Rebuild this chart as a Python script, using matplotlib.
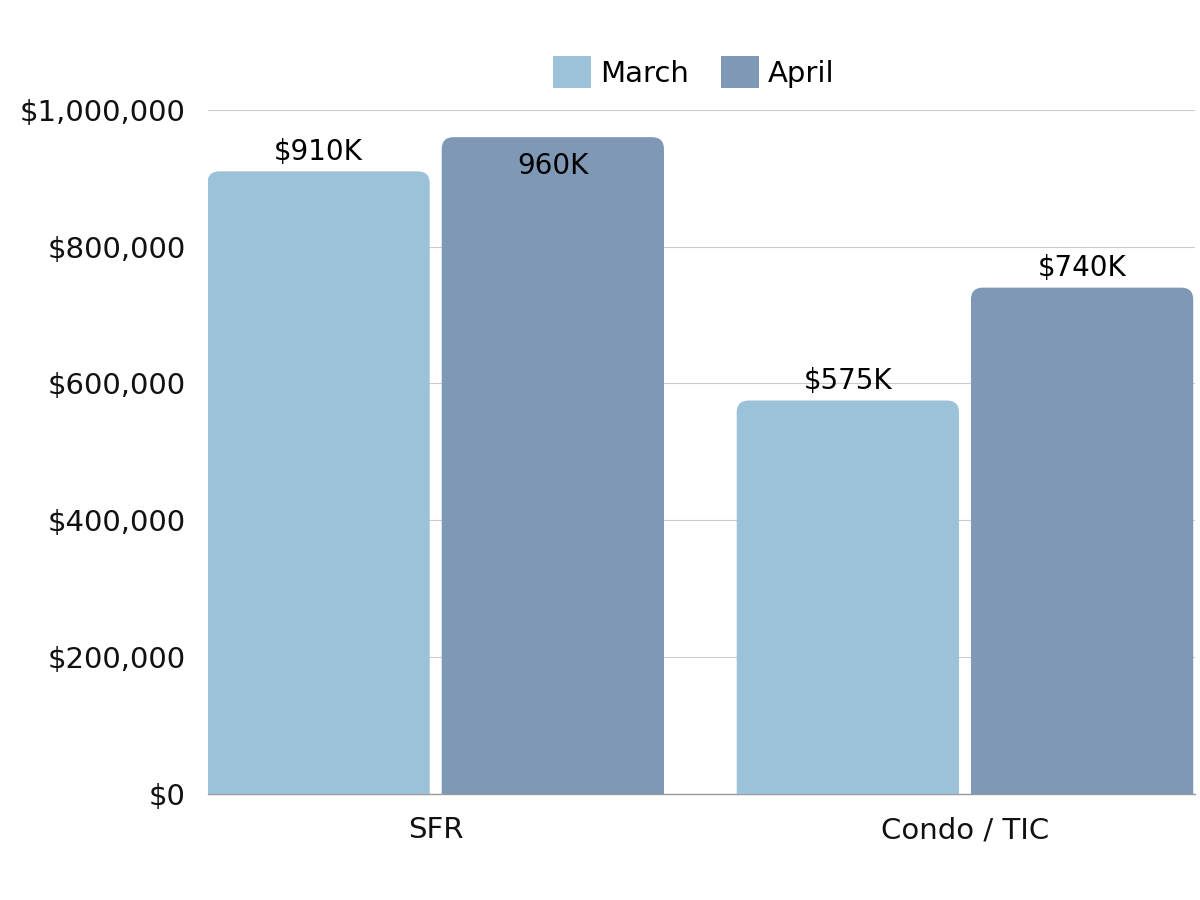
import numpy as np
import matplotlib.pyplot as plt
from matplotlib.patches import FancyBboxPatch, Patch
from matplotlib.ticker import FuncFormatter

plt.rcParams['font.family'] = ['DejaVu Sans']

categories = ['SFR', 'Condo / TIC']
series_names = ['March', 'April']
march = [910000, 575000]
april = [960000, 740000]
labels_march = ['$910K', '$575K']
labels_april = ['960K', '$740K']

colors = ['#9BC2D8', '#7F98B5']
bar_w = 0.42
offset = 0.2213

fig = plt.figure(figsize=(12, 9), dpi=100)
ax = fig.add_axes([0.173, 0.118, 0.823, 0.76])

x = np.arange(len(categories))
ymax = 1000000
ax.set_xlim(-0.431, 1.435)
ax.set_ylim(0, ymax)

# rounding radius ~12 px in both directions
ax_w_px = 0.823 * 1200
ax_h_px = 0.76 * 900
rx = 12 / ax_w_px * (1.435 + 0.431)
ry = 12 / ax_h_px * ymax
aspect = ry / rx

def rounded_bar(xc, h, color):
    p = FancyBboxPatch((xc - bar_w / 2 + rx, -ry * 2), bar_w - 2 * rx, h + ry,
                       boxstyle=f"round,pad={rx},rounding_size={rx}",
                       mutation_aspect=aspect, fc=color, ec='none', zorder=3)
    ax.add_patch(p)

for i in range(len(categories)):
    rounded_bar(x[i] - offset, march[i], colors[0])
    rounded_bar(x[i] + offset, april[i], colors[1])
    ax.text(x[i] - offset, march[i] + 8000, labels_march[i], ha='center', va='bottom',
            fontsize=20, color='black', zorder=4)
    if april[i] > 950000:
        ax.text(x[i] + offset, april[i] - 22000, labels_april[i], ha='center', va='top',
                fontsize=20, color='black', zorder=4)
    else:
        ax.text(x[i] + offset, april[i] + 8000, labels_april[i], ha='center', va='bottom',
                fontsize=20, color='black', zorder=4)

ax.set_yticks(np.arange(0, ymax + 1, 200000))
ax.yaxis.set_major_formatter(FuncFormatter(lambda v, p: f'${v:,.0f}'))
ax.set_xticks(x)
ax.set_xticklabels(categories)
ax.tick_params(axis='both', length=0, labelsize=21, colors='#111111')
ax.tick_params(axis='x', pad=16)
ax.tick_params(axis='y', pad=16)
ax.grid(axis='y', color='#cccccc', linewidth=0.8, zorder=0)
for s in ['top', 'right', 'left']:
    ax.spines[s].set_visible(False)
ax.spines['bottom'].set_color('#999999')
ax.spines['bottom'].set_linewidth(1)

handles = [Patch(fc=colors[0], ec='none'), Patch(fc=colors[1], ec='none')]
fig.legend(handles, series_names, loc='center', bbox_to_anchor=(0.578, 0.92), ncol=2,
           frameon=False, fontsize=21, handlelength=1.3, handleheight=1.3,
           handletextpad=0.3, columnspacing=1.1)

fig.savefig('out.png', dpi=100, facecolor='white')
